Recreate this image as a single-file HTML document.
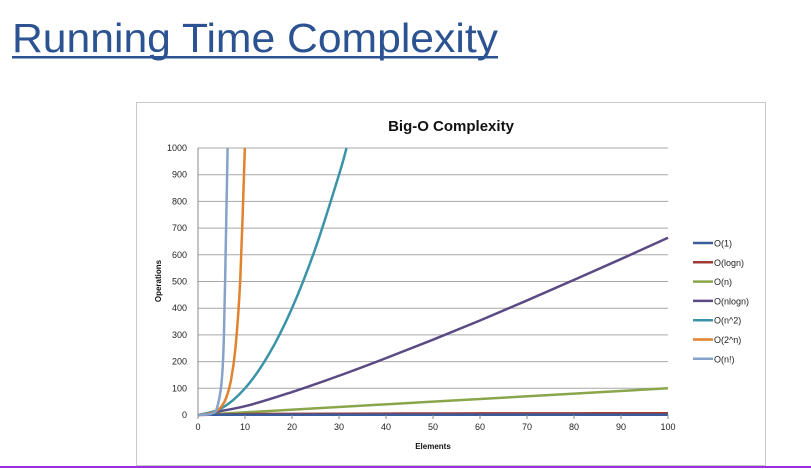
<!DOCTYPE html>
<html><head><meta charset="utf-8"><style>
html,body{margin:0;padding:0;background:#fff;width:811px;height:469px;overflow:hidden}
text{font-family:"Liberation Sans",sans-serif}
</style></head><body>
<svg id="root" width="811" height="469" viewBox="0 0 811 469">
<text x="12" y="52" font-size="41" fill="#2b5291" textLength="486" lengthAdjust="spacingAndGlyphs">Running Time Complexity</text>
<rect x="12" y="56" width="486" height="2.5" fill="#2b5291"/>
<rect x="136.5" y="102.5" width="629" height="363" fill="#fff" stroke="#c8c8c8"/>
<text x="451" y="131" font-size="15" font-weight="bold" text-anchor="middle" fill="#111">Big-O Complexity</text>
<g id="grid"></g>
<g id="series"></g>
<g id="axes"></g>
<text x="161" y="281" font-size="8" font-weight="bold" text-anchor="middle" transform="rotate(-90 161 281)" fill="#111">Operations</text>
<text x="433" y="449" font-size="8" font-weight="bold" text-anchor="middle" fill="#111">Elements</text>
<g id="legend"></g>
<rect x="0" y="466" width="811" height="2" fill="#9b30e0"/>
</svg>
<script>
const yTicks=[0,100,200,300,400,500,600,700,800,900,1000];
const xTicks=[0,10,20,30,40,50,60,70,80,90,100];
const names=["O(1)","O(logn)","O(n)","O(nlogn)","O(n^2)","O(2^n)","O(n!)"];
const colors=["#3b5c9c","#a03a36","#8aa64a","#5b4a84","#3a93a8","#e0822e","#86a2c8"];
const xO1=[0,100]; const vO1=[1,1];
const xLog=[0,10,20,30,40,50,60,70,80,90,100]; const vLog=[0,3.3,4.3,4.9,5.3,5.6,5.9,6.1,6.3,6.5,6.6];
const xN=[0,100]; const vN=[0,100];
const xNLog=[0,10,20,30,40,50,60,70,80,90,100]; const vNLog=[0,33,86,147,213,282,354,429,506,584,664];
const xSq=[0,5,10,15,20,25,30,31.6]; const vSq=[0,25,100,225,400,625,900,1000];
const xExp=[0,1,2,3,4,5,6,7,8,9,9.97]; const vExp=[1,2,4,8,16,32,64,128,256,512,1000];
const xFact=[0,1,2,3,4,5,5.5,6,6.3]; const vFact=[1,1,2,6,24,120,287,720,1000];
const X0=198,X1=668,Y0=415,Y1=148;
const sx=v=>X0+(X1-X0)*v/100, sy=v=>Y0-(Y0-Y1)*v/1000;
const NS="http://www.w3.org/2000/svg";
function mk(t,a,p){const e=document.createElementNS(NS,t);for(const k in a)e.setAttribute(k,a[k]);p.appendChild(e);return e;}
const grid=document.getElementById('grid'),axes=document.getElementById('axes');
yTicks.forEach(v=>{
 const l=mk('line',{x1:X0,x2:X1,y1:sy(v),y2:sy(v),stroke:v===0?'#888':'#a8a8a8','stroke-width':1},grid);
 
 
 const t=mk('text',{x:X0-11,y:sy(v)+3,'font-size':9,'text-anchor':'end',fill:'#222'},axes);t.textContent=v;
 
 
});
xTicks.forEach(v=>{
 const t=mk('text',{x:sx(v),y:Y0+15,'font-size':9,'text-anchor':'middle',fill:'#222'},axes);t.textContent=v;
 
 
 const k=mk('line',{x1:sx(v),x2:sx(v),y1:Y0,y2:Y0+4,stroke:'#888'},axes);
 
 
});
const va=mk('line',{x1:X0,x2:X0,y1:Y1,y2:Y0,stroke:'#888'},axes);


const ser=[[xO1,vO1],[xLog,vLog],[xN,vN],[xNLog,vNLog],[xSq,vSq],[xExp,vExp],[xFact,vFact]];
const sg=document.getElementById('series');
[2,1,0,3,4,5,6].forEach(i=>{
 const [xs,vs]=ser[i];
 let pts=xs.map((x,j)=>[sx(x),sy(vs[j])]);
 let d='M'+pts[0][0]+','+pts[0][1];
 for(let j=1;j<pts.length;j++){
  const p0=pts[j-2]||pts[j-1],p1=pts[j-1],p2=pts[j],p3=pts[j+1]||p2;
  const c1=[p1[0]+(p2[0]-p0[0])/6,p1[1]+(p2[1]-p0[1])/6],c2=[p2[0]-(p3[0]-p1[0])/6,p2[1]-(p3[1]-p1[1])/6];
  d+=' C'+c1+' '+c2+' '+p2;
 }
 const p=mk('path',{d:d,fill:'none',stroke:colors[i],'stroke-width':2.5,'stroke-linejoin':'round'},sg);
 
 
});
const lg=document.getElementById('legend');
names.forEach((n,i)=>{
 const y=243+i*19.3;
 const l=mk('line',{x1:693,x2:713,y1:y,y2:y,stroke:colors[i],'stroke-width':2.5},lg);
 
 
 const t=mk('text',{x:714,y:y+3.5,'font-size':9,fill:'#222'},lg);t.textContent=n;
 
 
});
</script>
</body></html>
